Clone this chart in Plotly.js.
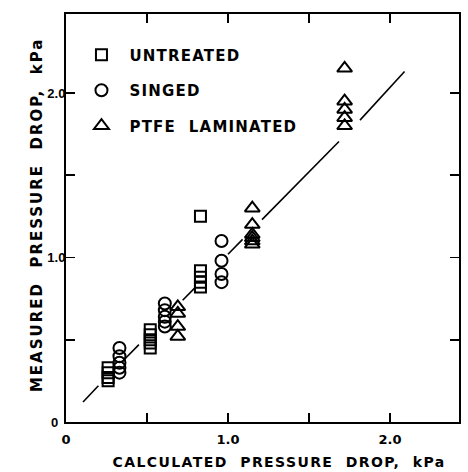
<!DOCTYPE html>
<html>
<head>
<meta charset="utf-8">
<script src="https://cdn.plot.ly/plotly-3.0.1.min.js"></script>
<style>
  html, body { margin: 0; padding: 0; background: #fff; }
  #chart { width: 468px; height: 472px; }
  .annotation[data-index="0"] .annotation-text { letter-spacing: 1.4px; }
  .annotation[data-index="1"] .annotation-text { letter-spacing: 2.0px; }
  .legendtext { letter-spacing: 1.2px; }
</style>
</head>
<body>
<div id="chart"></div>
<script>
// Calculated vs measured pressure drop, kPa
const untreatedX = [0.26, 0.26, 0.26, 0.26, 0.52, 0.52, 0.52, 0.52, 0.52, 0.83, 0.83, 0.83, 0.83, 0.83];
const untreatedY = [0.25, 0.27, 0.30, 0.33, 0.45, 0.48, 0.50, 0.53, 0.56, 0.82, 0.85, 0.88, 0.92, 1.25];

const singedX = [0.33, 0.33, 0.33, 0.33, 0.33, 0.61, 0.61, 0.61, 0.61, 0.61, 0.96, 0.96, 0.96, 0.96];
const singedY = [0.30, 0.33, 0.36, 0.40, 0.45, 0.58, 0.61, 0.64, 0.68, 0.72, 0.85, 0.90, 0.98, 1.10];

const ptfeX = [0.69, 0.69, 0.69, 0.69, 1.15, 1.15, 1.15, 1.15, 1.15, 1.15, 1.72, 1.72, 1.72, 1.72, 1.72];
const ptfeY = [0.52, 0.58, 0.66, 0.70, 1.08, 1.10, 1.12, 1.14, 1.20, 1.30, 1.80, 1.85, 1.90, 1.95, 2.15];

// reference (calculated = measured) line, drawn broken where it meets the symbols
const refLineX = [0.105, 0.20, null, 0.36, 0.45, null, 0.72, 0.80, null, 1.00, 1.09, null, 1.21, 1.685, null, 1.815, 2.09];
const refLineY = [0.122, 0.22, null, 0.38, 0.47, null, 0.74, 0.82, null, 1.02, 1.11, null, 1.23, 1.705, null, 1.835, 2.13];

const tickVals = [0, 0.5, 1.0, 1.5, 2.0];
const xTickText = ['0', '', '1.0', '', '2.0'];
const yTickText = ['0\u00a0\u00a0', '', '1.0', '', '2.0'];

const seriesNames = ['UNTREATED', 'SINGED', 'PTFE  LAMINATED'];
const xTitle = 'CALCULATED  PRESSURE  DROP,  kPa';
const yTitle = 'MEASURED  PRESSURE  DROP,  kPa';

const FONT = 'DejaVu Sans, Arial, sans-serif';
const NARROW = 'Liberation Sans, Arial, sans-serif';

const markerBase = { color: '#000', line: { color: '#000', width: 2 } };

const traces = [
  {
    x: refLineX, y: refLineY, mode: 'lines', showlegend: false,
    line: { color: '#000', width: 1.6 }, hoverinfo: 'skip', connectgaps: false
  },
  {
    x: untreatedX, y: untreatedY, mode: 'markers', name: seriesNames[0], legendgroup: 'a',
    marker: Object.assign({ symbol: 'square-open', size: 11 }, markerBase)
  },
  {
    x: singedX, y: singedY, mode: 'markers', name: seriesNames[1], legendgroup: 'b',
    marker: Object.assign({ symbol: 'circle-open', size: 12 }, markerBase)
  },
  {
    x: ptfeX, y: ptfeY, mode: 'markers', name: seriesNames[2], legendgroup: 'c',
    marker: Object.assign({ symbol: 'triangle-up-open', size: 13 }, markerBase)
  }
];

const axisCommon = {
  showgrid: false, zeroline: false,
  showline: true, linecolor: '#000', linewidth: 2, mirror: 'ticks',
  ticks: 'inside', ticklen: 9, tickwidth: 1.6, tickcolor: '#000',
  tickmode: 'array', tickvals: tickVals
};

const layout = {
  width: 468, height: 472,
  margin: { l: 66, r: 9, t: 14, b: 50 },
  paper_bgcolor: '#fff', plot_bgcolor: '#fff',
  font: { family: FONT, color: '#000' },
  xaxis: Object.assign({}, axisCommon, {
    range: [0, 2.426], ticktext: xTickText, ticklabelstandoff: 4,
    tickfont: { family: FONT, size: 13, color: '#000', weight: 'bold' }
  }),
  yaxis: Object.assign({}, axisCommon, {
    range: [0, 2.48], ticktext: yTickText, ticklabelstandoff: -4,
    tickfont: { family: NARROW, size: 13, color: '#000', weight: 'bold' }
  }),
  annotations: [
    { text: xTitle, xref: 'paper', yref: 'paper', x: 0.542, y: -0.098,
      xanchor: 'center', yanchor: 'middle', showarrow: false,
      font: { family: FONT, size: 14, color: '#000', weight: 'bold' } },
    { text: yTitle, xref: 'paper', yref: 'paper', x: -0.074, y: 0.507, textangle: -90,
      xanchor: 'center', yanchor: 'middle', showarrow: false,
      font: { family: FONT, size: 15, color: '#000', weight: 'bold' } }
  ],
  showlegend: true,
  legend: {
    x: 0.019, y: 0.94, xanchor: 'left', yanchor: 'top',
    bgcolor: 'rgba(0,0,0,0)', borderwidth: 0,
    font: { family: FONT, size: 15, color: '#000', weight: 'bold' },
    tracegroupgap: 13, itemwidth: 46
  }
};

Plotly.newPlot('chart', traces, layout, { displayModeBar: false, staticPlot: true });
</script>
</body>
</html>
